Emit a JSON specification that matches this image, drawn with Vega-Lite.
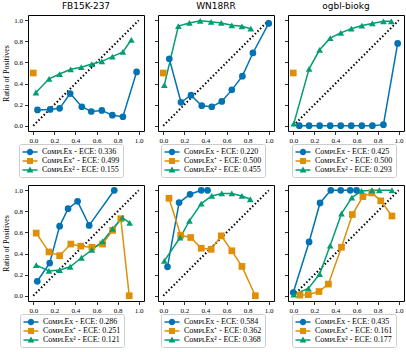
{
"$schema":"https://vega.github.io/schema/vega-lite/v6.json",
"padding":{"left":2,"top":1,"right":0,"bottom":0},
"datasets":{
"diag":[{"x":0,"y":0},{"x":1,"y":1}],
"fb_top":[
{"model":"ComplEx","x":0.04,"y":0.15},{"model":"ComplEx","x":0.16,"y":0.155},{"model":"ComplEx","x":0.25,"y":0.165},{"model":"ComplEx","x":0.35,"y":0.305},{"model":"ComplEx","x":0.46,"y":0.18},{"model":"ComplEx","x":0.55,"y":0.135},{"model":"ComplEx","x":0.65,"y":0.145},{"model":"ComplEx","x":0.75,"y":0.1},{"model":"ComplEx","x":0.85,"y":0.085},{"model":"ComplEx","x":0.98,"y":0.51},
{"model":"ComplEx+","x":0.0,"y":0.5},
{"model":"ComplEx2","x":0.025,"y":0.315},{"model":"ComplEx2","x":0.15,"y":0.445},{"model":"ComplEx2","x":0.25,"y":0.49},{"model":"ComplEx2","x":0.355,"y":0.535},{"model":"ComplEx2","x":0.455,"y":0.555},{"model":"ComplEx2","x":0.555,"y":0.585},{"model":"ComplEx2","x":0.65,"y":0.61},{"model":"ComplEx2","x":0.75,"y":0.655},{"model":"ComplEx2","x":0.85,"y":0.7},{"model":"ComplEx2","x":0.93,"y":0.815}],
"wn_top":[
{"model":"ComplEx","x":0.057,"y":0.635},{"model":"ComplEx","x":0.168,"y":0.222},{"model":"ComplEx","x":0.263,"y":0.29},{"model":"ComplEx","x":0.365,"y":0.19},{"model":"ComplEx","x":0.46,"y":0.18},{"model":"ComplEx","x":0.555,"y":0.23},{"model":"ComplEx","x":0.65,"y":0.34},{"model":"ComplEx","x":0.75,"y":0.47},{"model":"ComplEx","x":0.85,"y":0.69},{"model":"ComplEx","x":1.0,"y":0.97},
{"model":"ComplEx+","x":0.0,"y":0.5},
{"model":"ComplEx2","x":0.01,"y":0.385},{"model":"ComplEx2","x":0.143,"y":0.945},{"model":"ComplEx2","x":0.248,"y":0.975},{"model":"ComplEx2","x":0.35,"y":0.995},{"model":"ComplEx2","x":0.454,"y":0.985},{"model":"ComplEx2","x":0.55,"y":0.975},{"model":"ComplEx2","x":0.65,"y":0.952},{"model":"ComplEx2","x":0.746,"y":0.943},{"model":"ComplEx2","x":0.83,"y":0.92}],
"og_top":[
{"model":"ComplEx","x":0.057,"y":0.0},{"model":"ComplEx","x":0.15,"y":0.0},{"model":"ComplEx","x":0.25,"y":0.0},{"model":"ComplEx","x":0.35,"y":0.0},{"model":"ComplEx","x":0.45,"y":0.0},{"model":"ComplEx","x":0.55,"y":0.0},{"model":"ComplEx","x":0.65,"y":0.0},{"model":"ComplEx","x":0.75,"y":0.0},{"model":"ComplEx","x":0.855,"y":0.01},{"model":"ComplEx","x":0.99,"y":0.78},
{"model":"ComplEx+","x":0.0,"y":0.5},
{"model":"ComplEx2","x":0.005,"y":0.02},{"model":"ComplEx2","x":0.15,"y":0.54},{"model":"ComplEx2","x":0.25,"y":0.72},{"model":"ComplEx2","x":0.35,"y":0.83},{"model":"ComplEx2","x":0.45,"y":0.88},{"model":"ComplEx2","x":0.55,"y":0.92},{"model":"ComplEx2","x":0.65,"y":0.95},{"model":"ComplEx2","x":0.75,"y":0.97},{"model":"ComplEx2","x":0.855,"y":0.99},{"model":"ComplEx2","x":0.93,"y":0.99}],
"fb_bot":[
{"model":"ComplEx","x":0.038,"y":0.137},{"model":"ComplEx","x":0.156,"y":0.31},{"model":"ComplEx","x":0.25,"y":0.66},{"model":"ComplEx","x":0.33,"y":0.825},{"model":"ComplEx","x":0.42,"y":0.895},{"model":"ComplEx","x":0.53,"y":0.667},{"model":"ComplEx","x":0.768,"y":1.0},
{"model":"ComplEx+","x":0.028,"y":0.594},{"model":"ComplEx+","x":0.149,"y":0.415},{"model":"ComplEx+","x":0.25,"y":0.38},{"model":"ComplEx+","x":0.356,"y":0.49},{"model":"ComplEx+","x":0.45,"y":0.47},{"model":"ComplEx+","x":0.556,"y":0.46},{"model":"ComplEx+","x":0.657,"y":0.49},{"model":"ComplEx+","x":0.752,"y":0.62},{"model":"ComplEx+","x":0.83,"y":0.73},{"model":"ComplEx+","x":0.91,"y":0.0},
{"model":"ComplEx2","x":0.028,"y":0.29},{"model":"ComplEx2","x":0.149,"y":0.235},{"model":"ComplEx2","x":0.25,"y":0.244},{"model":"ComplEx2","x":0.35,"y":0.275},{"model":"ComplEx2","x":0.457,"y":0.36},{"model":"ComplEx2","x":0.556,"y":0.435},{"model":"ComplEx2","x":0.657,"y":0.515},{"model":"ComplEx2","x":0.752,"y":0.635},{"model":"ComplEx2","x":0.845,"y":0.74},{"model":"ComplEx2","x":0.914,"y":0.69}],
"wn_bot":[
{"model":"ComplEx","x":0.04,"y":0.274},{"model":"ComplEx","x":0.15,"y":0.883},{"model":"ComplEx","x":0.254,"y":0.962},{"model":"ComplEx","x":0.36,"y":1.0},{"model":"ComplEx","x":0.42,"y":1.0},
{"model":"ComplEx+","x":0.054,"y":0.924},{"model":"ComplEx+","x":0.165,"y":0.574},{"model":"ComplEx+","x":0.26,"y":0.552},{"model":"ComplEx+","x":0.36,"y":0.45},{"model":"ComplEx+","x":0.454,"y":0.44},{"model":"ComplEx+","x":0.55,"y":0.568},{"model":"ComplEx+","x":0.65,"y":0.426},{"model":"ComplEx+","x":0.746,"y":0.278},{"model":"ComplEx+","x":0.873,"y":0.0},
{"model":"ComplEx2","x":0.01,"y":0.33},{"model":"ComplEx2","x":0.16,"y":0.552},{"model":"ComplEx2","x":0.248,"y":0.71},{"model":"ComplEx2","x":0.36,"y":0.874},{"model":"ComplEx2","x":0.46,"y":0.946},{"model":"ComplEx2","x":0.555,"y":0.97},{"model":"ComplEx2","x":0.65,"y":0.97},{"model":"ComplEx2","x":0.746,"y":0.946},{"model":"ComplEx2","x":0.825,"y":0.915}],
"og_bot":[
{"model":"ComplEx","x":0.0,"y":0.03},{"model":"ComplEx","x":0.15,"y":0.51},{"model":"ComplEx","x":0.254,"y":0.88},{"model":"ComplEx","x":0.356,"y":1.0},{"model":"ComplEx","x":0.45,"y":1.0},{"model":"ComplEx","x":0.54,"y":1.0},{"model":"ComplEx","x":0.6,"y":1.0},
{"model":"ComplEx+","x":0.063,"y":0.006},{"model":"ComplEx+","x":0.143,"y":0.01},{"model":"ComplEx+","x":0.244,"y":0.04},{"model":"ComplEx+","x":0.333,"y":0.11},{"model":"ComplEx+","x":0.457,"y":0.46},{"model":"ComplEx+","x":0.56,"y":0.77},{"model":"ComplEx+","x":0.66,"y":0.94},{"model":"ComplEx+","x":0.745,"y":0.975},{"model":"ComplEx+","x":0.83,"y":0.9},{"model":"ComplEx+","x":0.936,"y":0.756},
{"model":"ComplEx2","x":0.006,"y":0.01},{"model":"ComplEx2","x":0.143,"y":0.07},{"model":"ComplEx2","x":0.25,"y":0.206},{"model":"ComplEx2","x":0.35,"y":0.476},{"model":"ComplEx2","x":0.457,"y":0.778},{"model":"ComplEx2","x":0.556,"y":0.93},{"model":"ComplEx2","x":0.647,"y":0.994},{"model":"ComplEx2","x":0.746,"y":1.0},{"model":"ComplEx2","x":0.816,"y":1.0},{"model":"ComplEx2","x":0.936,"y":1.0}]
},
"vconcat":[
{"hconcat":[
{"title":"FB15K-237","width":116,"height":116,
"encoding":{"x":{"field":"x","type":"quantitative","scale":{"domain":[-0.05,1.05],"nice":false,"zero":false},"axis":{"values":[0,0.2,0.4,0.6,0.8,1],"format":".1f","title":null}},
"y":{"field":"y","type":"quantitative","scale":{"domain":[-0.05,1.05],"nice":false,"zero":false},"axis":{"values":[0,0.2,0.4,0.6,0.8,1],"format":".1f","title":"Ratio of Positives"}}},
"layer":[
{"data":{"name":"diag"},"mark":{"type":"line","color":"black","strokeDash":[1.5,2.2],"strokeWidth":2},"encoding":{}},
{"data":{"name":"fb_top"},"mark":{"type":"line","strokeWidth":1.5},"encoding":{"stroke":{"field":"model","type":"nominal","scale":{"range":["#0173b2","#de8f05","#029e73"]},"legend":null}}},
{"data":{"name":"fb_top"},"mark":{"type":"point","filled":true,"opacity":1,"size":45},"encoding":{"fill":{"field":"model","type":"nominal","scale":{"range":["#0173b2","#de8f05","#029e73"]},"legend":null},"shape":{"condition":[{"test":"datum.model === 'ComplEx+'","value":"square"},{"test":"datum.model === 'ComplEx2'","value":"triangle-up"}],"value":"circle"}}},
{"data":{"name":"fb_top"},"mark":{"type":"point","filled":true,"opacity":0},"encoding":{
"color":{"field":"model","type":"nominal","scale":{"domain":["ComplEx","ComplEx+","ComplEx2"],"range":["#0173b2","#de8f05","#029e73"]},"legend":{"orient":"none","legendX":-9,"legendY":129,"symbolOpacity":1,"labelExpr":"datum.label === 'ComplEx' ? 'CᴏᴍᴘʟEx - ECE: 0.336' : datum.label === 'ComplEx+' ? 'CᴏᴍᴘʟEx⁺ - ECE: 0.499' : 'CᴏᴍᴘʟEx² - ECE: 0.155'"}},
"shape":{"field":"model","type":"nominal","scale":{"domain":["ComplEx","ComplEx+","ComplEx2"],"range":["M-1.5,-0.15H1.5V0.15H-1.5Z M-0.64,0A0.64,0.64 0 1,1 0.64,0A0.64,0.64 0 1,1 -0.64,0Z","M-1.5,-0.15H1.5V0.15H-1.5Z M-0.6,-0.6H0.6V0.6H-0.6Z","M-1.5,-0.15H1.5V0.15H-1.5Z M0,-0.72L0.68,0.48L-0.68,0.48Z"]},"legend":{"orient":"none","legendX":-9,"legendY":129,"symbolOpacity":1,"labelExpr":"datum.label === 'ComplEx' ? 'CᴏᴍᴘʟEx - ECE: 0.336' : datum.label === 'ComplEx+' ? 'CᴏᴍᴘʟEx⁺ - ECE: 0.499' : 'CᴏᴍᴘʟEx² - ECE: 0.155'"}}}}
]},
{"title":"WN18RR","width":116,"height":116,
"encoding":{"x":{"field":"x","type":"quantitative","scale":{"domain":[-0.05,1.05],"nice":false,"zero":false},"axis":{"values":[0,0.2,0.4,0.6,0.8,1],"format":".1f","title":null}},
"y":{"field":"y","type":"quantitative","scale":{"domain":[-0.05,1.05],"nice":false,"zero":false},"axis":{"values":[0,0.2,0.4,0.6,0.8,1],"labels":false,"title":null}}},
"layer":[
{"data":{"name":"diag"},"mark":{"type":"line","color":"black","strokeDash":[1.5,2.2],"strokeWidth":2},"encoding":{}},
{"data":{"name":"wn_top"},"mark":{"type":"line","strokeWidth":1.5},"encoding":{"stroke":{"field":"model","type":"nominal","scale":{"range":["#0173b2","#de8f05","#029e73"]},"legend":null}}},
{"data":{"name":"wn_top"},"mark":{"type":"point","filled":true,"opacity":1,"size":45},"encoding":{"fill":{"field":"model","type":"nominal","scale":{"range":["#0173b2","#de8f05","#029e73"]},"legend":null},"shape":{"condition":[{"test":"datum.model === 'ComplEx+'","value":"square"},{"test":"datum.model === 'ComplEx2'","value":"triangle-up"}],"value":"circle"}}},
{"data":{"name":"wn_top"},"mark":{"type":"point","filled":true,"opacity":0},"encoding":{
"color":{"field":"model","type":"nominal","scale":{"domain":["ComplEx","ComplEx+","ComplEx2"],"range":["#0173b2","#de8f05","#029e73"]},"legend":{"orient":"none","legendX":3,"legendY":129,"symbolOpacity":1,"labelExpr":"datum.label === 'ComplEx' ? 'CᴏᴍᴘʟEx - ECE: 0.220' : datum.label === 'ComplEx+' ? 'CᴏᴍᴘʟEx⁺ - ECE: 0.500' : 'CᴏᴍᴘʟEx² - ECE: 0.455'"}},
"shape":{"field":"model","type":"nominal","scale":{"domain":["ComplEx","ComplEx+","ComplEx2"],"range":["M-1.5,-0.15H1.5V0.15H-1.5Z M-0.64,0A0.64,0.64 0 1,1 0.64,0A0.64,0.64 0 1,1 -0.64,0Z","M-1.5,-0.15H1.5V0.15H-1.5Z M-0.6,-0.6H0.6V0.6H-0.6Z","M-1.5,-0.15H1.5V0.15H-1.5Z M0,-0.72L0.68,0.48L-0.68,0.48Z"]},"legend":{"orient":"none","legendX":3,"legendY":129,"symbolOpacity":1,"labelExpr":"datum.label === 'ComplEx' ? 'CᴏᴍᴘʟEx - ECE: 0.220' : datum.label === 'ComplEx+' ? 'CᴏᴍᴘʟEx⁺ - ECE: 0.500' : 'CᴏᴍᴘʟEx² - ECE: 0.455'"}}}}
]},
{"title":"ogbl-biokg","width":116,"height":116,
"encoding":{"x":{"field":"x","type":"quantitative","scale":{"domain":[-0.05,1.05],"nice":false,"zero":false},"axis":{"values":[0,0.2,0.4,0.6,0.8,1],"format":".1f","title":null}},
"y":{"field":"y","type":"quantitative","scale":{"domain":[-0.05,1.05],"nice":false,"zero":false},"axis":{"values":[0,0.2,0.4,0.6,0.8,1],"labels":false,"title":null}}},
"layer":[
{"data":{"name":"diag"},"mark":{"type":"line","color":"black","strokeDash":[1.5,2.2],"strokeWidth":2},"encoding":{}},
{"data":{"name":"og_top"},"mark":{"type":"line","strokeWidth":1.5},"encoding":{"stroke":{"field":"model","type":"nominal","scale":{"range":["#0173b2","#de8f05","#029e73"]},"legend":null}}},
{"data":{"name":"og_top"},"mark":{"type":"point","filled":true,"opacity":1,"size":45},"encoding":{"fill":{"field":"model","type":"nominal","scale":{"range":["#0173b2","#de8f05","#029e73"]},"legend":null},"shape":{"condition":[{"test":"datum.model === 'ComplEx+'","value":"square"},{"test":"datum.model === 'ComplEx2'","value":"triangle-up"}],"value":"circle"}}},
{"data":{"name":"og_top"},"mark":{"type":"point","filled":true,"opacity":0},"encoding":{
"color":{"field":"model","type":"nominal","scale":{"domain":["ComplEx","ComplEx+","ComplEx2"],"range":["#0173b2","#de8f05","#029e73"]},"legend":{"orient":"none","legendX":4,"legendY":129,"symbolOpacity":1,"labelExpr":"datum.label === 'ComplEx' ? 'CᴏᴍᴘʟEx - ECE: 0.425' : datum.label === 'ComplEx+' ? 'CᴏᴍᴘʟEx⁺ - ECE: 0.500' : 'CᴏᴍᴘʟEx² - ECE: 0.293'"}},
"shape":{"field":"model","type":"nominal","scale":{"domain":["ComplEx","ComplEx+","ComplEx2"],"range":["M-1.5,-0.15H1.5V0.15H-1.5Z M-0.64,0A0.64,0.64 0 1,1 0.64,0A0.64,0.64 0 1,1 -0.64,0Z","M-1.5,-0.15H1.5V0.15H-1.5Z M-0.6,-0.6H0.6V0.6H-0.6Z","M-1.5,-0.15H1.5V0.15H-1.5Z M0,-0.72L0.68,0.48L-0.68,0.48Z"]},"legend":{"orient":"none","legendX":4,"legendY":129,"symbolOpacity":1,"labelExpr":"datum.label === 'ComplEx' ? 'CᴏᴍᴘʟEx - ECE: 0.425' : datum.label === 'ComplEx+' ? 'CᴏᴍᴘʟEx⁺ - ECE: 0.500' : 'CᴏᴍᴘʟEx² - ECE: 0.293'"}}}}
]}
],"spacing":8,"resolve":{"scale":{"color":"independent","shape":"independent","stroke":"independent","fill":"independent"},"legend":{"color":"independent","shape":"independent"}}},
{"hconcat":[
{"width":116,"height":116,
"encoding":{"x":{"field":"x","type":"quantitative","scale":{"domain":[-0.05,1.05],"nice":false,"zero":false},"axis":{"values":[0,0.2,0.4,0.6,0.8,1],"format":".1f","title":null}},
"y":{"field":"y","type":"quantitative","scale":{"domain":[-0.05,1.05],"nice":false,"zero":false},"axis":{"values":[0,0.2,0.4,0.6,0.8,1],"format":".1f","title":"Ratio of Positives"}}},
"layer":[
{"data":{"name":"diag"},"mark":{"type":"line","color":"black","strokeDash":[1.5,2.2],"strokeWidth":2},"encoding":{}},
{"data":{"name":"fb_bot"},"mark":{"type":"line","strokeWidth":1.5},"encoding":{"stroke":{"field":"model","type":"nominal","scale":{"range":["#0173b2","#de8f05","#029e73"]},"legend":null}}},
{"data":{"name":"fb_bot"},"mark":{"type":"point","filled":true,"opacity":1,"size":45},"encoding":{"fill":{"field":"model","type":"nominal","scale":{"range":["#0173b2","#de8f05","#029e73"]},"legend":null},"shape":{"condition":[{"test":"datum.model === 'ComplEx+'","value":"square"},{"test":"datum.model === 'ComplEx2'","value":"triangle-up"}],"value":"circle"}}},
{"data":{"name":"fb_bot"},"mark":{"type":"point","filled":true,"opacity":0},"encoding":{
"color":{"field":"model","type":"nominal","scale":{"domain":["ComplEx","ComplEx+","ComplEx2"],"range":["#0173b2","#de8f05","#029e73"]},"legend":{"orient":"none","legendX":-8,"legendY":129,"symbolOpacity":1,"labelExpr":"datum.label === 'ComplEx' ? 'CᴏᴍᴘʟEx - ECE: 0.286' : datum.label === 'ComplEx+' ? 'CᴏᴍᴘʟEx⁺ - ECE: 0.251' : 'CᴏᴍᴘʟEx² - ECE: 0.121'"}},
"shape":{"field":"model","type":"nominal","scale":{"domain":["ComplEx","ComplEx+","ComplEx2"],"range":["M-1.5,-0.15H1.5V0.15H-1.5Z M-0.64,0A0.64,0.64 0 1,1 0.64,0A0.64,0.64 0 1,1 -0.64,0Z","M-1.5,-0.15H1.5V0.15H-1.5Z M-0.6,-0.6H0.6V0.6H-0.6Z","M-1.5,-0.15H1.5V0.15H-1.5Z M0,-0.72L0.68,0.48L-0.68,0.48Z"]},"legend":{"orient":"none","legendX":-8,"legendY":129,"symbolOpacity":1,"labelExpr":"datum.label === 'ComplEx' ? 'CᴏᴍᴘʟEx - ECE: 0.286' : datum.label === 'ComplEx+' ? 'CᴏᴍᴘʟEx⁺ - ECE: 0.251' : 'CᴏᴍᴘʟEx² - ECE: 0.121'"}}}}
]},
{"width":116,"height":116,
"encoding":{"x":{"field":"x","type":"quantitative","scale":{"domain":[-0.05,1.05],"nice":false,"zero":false},"axis":{"values":[0,0.2,0.4,0.6,0.8,1],"format":".1f","title":null}},
"y":{"field":"y","type":"quantitative","scale":{"domain":[-0.05,1.05],"nice":false,"zero":false},"axis":{"values":[0,0.2,0.4,0.6,0.8,1],"labels":false,"title":null}}},
"layer":[
{"data":{"name":"diag"},"mark":{"type":"line","color":"black","strokeDash":[1.5,2.2],"strokeWidth":2},"encoding":{}},
{"data":{"name":"wn_bot"},"mark":{"type":"line","strokeWidth":1.5},"encoding":{"stroke":{"field":"model","type":"nominal","scale":{"range":["#0173b2","#de8f05","#029e73"]},"legend":null}}},
{"data":{"name":"wn_bot"},"mark":{"type":"point","filled":true,"opacity":1,"size":45},"encoding":{"fill":{"field":"model","type":"nominal","scale":{"range":["#0173b2","#de8f05","#029e73"]},"legend":null},"shape":{"condition":[{"test":"datum.model === 'ComplEx+'","value":"square"},{"test":"datum.model === 'ComplEx2'","value":"triangle-up"}],"value":"circle"}}},
{"data":{"name":"wn_bot"},"mark":{"type":"point","filled":true,"opacity":0},"encoding":{
"color":{"field":"model","type":"nominal","scale":{"domain":["ComplEx","ComplEx+","ComplEx2"],"range":["#0173b2","#de8f05","#029e73"]},"legend":{"orient":"none","legendX":3,"legendY":129,"symbolOpacity":1,"labelExpr":"datum.label === 'ComplEx' ? 'CᴏᴍᴘʟEx - ECE: 0.584' : datum.label === 'ComplEx+' ? 'CᴏᴍᴘʟEx⁺ - ECE: 0.362' : 'CᴏᴍᴘʟEx² - ECE: 0.368'"}},
"shape":{"field":"model","type":"nominal","scale":{"domain":["ComplEx","ComplEx+","ComplEx2"],"range":["M-1.5,-0.15H1.5V0.15H-1.5Z M-0.64,0A0.64,0.64 0 1,1 0.64,0A0.64,0.64 0 1,1 -0.64,0Z","M-1.5,-0.15H1.5V0.15H-1.5Z M-0.6,-0.6H0.6V0.6H-0.6Z","M-1.5,-0.15H1.5V0.15H-1.5Z M0,-0.72L0.68,0.48L-0.68,0.48Z"]},"legend":{"orient":"none","legendX":3,"legendY":129,"symbolOpacity":1,"labelExpr":"datum.label === 'ComplEx' ? 'CᴏᴍᴘʟEx - ECE: 0.584' : datum.label === 'ComplEx+' ? 'CᴏᴍᴘʟEx⁺ - ECE: 0.362' : 'CᴏᴍᴘʟEx² - ECE: 0.368'"}}}}
]},
{"width":116,"height":116,
"encoding":{"x":{"field":"x","type":"quantitative","scale":{"domain":[-0.05,1.05],"nice":false,"zero":false},"axis":{"values":[0,0.2,0.4,0.6,0.8,1],"format":".1f","title":null}},
"y":{"field":"y","type":"quantitative","scale":{"domain":[-0.05,1.05],"nice":false,"zero":false},"axis":{"values":[0,0.2,0.4,0.6,0.8,1],"labels":false,"title":null}}},
"layer":[
{"data":{"name":"diag"},"mark":{"type":"line","color":"black","strokeDash":[1.5,2.2],"strokeWidth":2},"encoding":{}},
{"data":{"name":"og_bot"},"mark":{"type":"line","strokeWidth":1.5},"encoding":{"stroke":{"field":"model","type":"nominal","scale":{"range":["#0173b2","#de8f05","#029e73"]},"legend":null}}},
{"data":{"name":"og_bot"},"mark":{"type":"point","filled":true,"opacity":1,"size":45},"encoding":{"fill":{"field":"model","type":"nominal","scale":{"range":["#0173b2","#de8f05","#029e73"]},"legend":null},"shape":{"condition":[{"test":"datum.model === 'ComplEx+'","value":"square"},{"test":"datum.model === 'ComplEx2'","value":"triangle-up"}],"value":"circle"}}},
{"data":{"name":"og_bot"},"mark":{"type":"point","filled":true,"opacity":0},"encoding":{
"color":{"field":"model","type":"nominal","scale":{"domain":["ComplEx","ComplEx+","ComplEx2"],"range":["#0173b2","#de8f05","#029e73"]},"legend":{"orient":"none","legendX":4,"legendY":129,"symbolOpacity":1,"labelExpr":"datum.label === 'ComplEx' ? 'CᴏᴍᴘʟEx - ECE: 0.435' : datum.label === 'ComplEx+' ? 'CᴏᴍᴘʟEx⁺ - ECE: 0.161' : 'CᴏᴍᴘʟEx² - ECE: 0.177'"}},
"shape":{"field":"model","type":"nominal","scale":{"domain":["ComplEx","ComplEx+","ComplEx2"],"range":["M-1.5,-0.15H1.5V0.15H-1.5Z M-0.64,0A0.64,0.64 0 1,1 0.64,0A0.64,0.64 0 1,1 -0.64,0Z","M-1.5,-0.15H1.5V0.15H-1.5Z M-0.6,-0.6H0.6V0.6H-0.6Z","M-1.5,-0.15H1.5V0.15H-1.5Z M0,-0.72L0.68,0.48L-0.68,0.48Z"]},"legend":{"orient":"none","legendX":4,"legendY":129,"symbolOpacity":1,"labelExpr":"datum.label === 'ComplEx' ? 'CᴏᴍᴘʟEx - ECE: 0.435' : datum.label === 'ComplEx+' ? 'CᴏᴍᴘʟEx⁺ - ECE: 0.161' : 'CᴏᴍᴘʟEx² - ECE: 0.177'"}}}}
]}
],"spacing":8,"resolve":{"scale":{"color":"independent","shape":"independent","stroke":"independent","fill":"independent"},"legend":{"color":"independent","shape":"independent"}}}
],
"spacing":6,
"resolve":{"scale":{"color":"independent","shape":"independent","stroke":"independent","fill":"independent"},"legend":{"color":"independent","shape":"independent"}},
"config":{
"view":{"stroke":"black","strokeWidth":1},
"axis":{"domain":false,"grid":false,"tickColor":"black","tickSize":3.5,"tickWidth":0.8,"labelFont":"Liberation Serif","labelFontSize":7,"labelColor":"black","labelPadding":2,"titleFont":"Liberation Serif","titleFontSize":8,"titleFontWeight":"normal","titleColor":"black","titlePadding":3},
"title":{"font":"DejaVu Sans","fontSize":9,"fontWeight":"normal","offset":4,"color":"black"},
"legend":{"direction":"vertical","title":null,"strokeColor":"#cccccc","fillColor":"white","cornerRadius":2,"padding":3,"labelFont":"Liberation Serif","labelFontSize":8,"labelColor":"black","symbolSize":100,"symbolOffset":3,"symbolStrokeWidth":0,"symbolOpacity":1,"rowPadding":0,"labelOffset":7}
}
}
